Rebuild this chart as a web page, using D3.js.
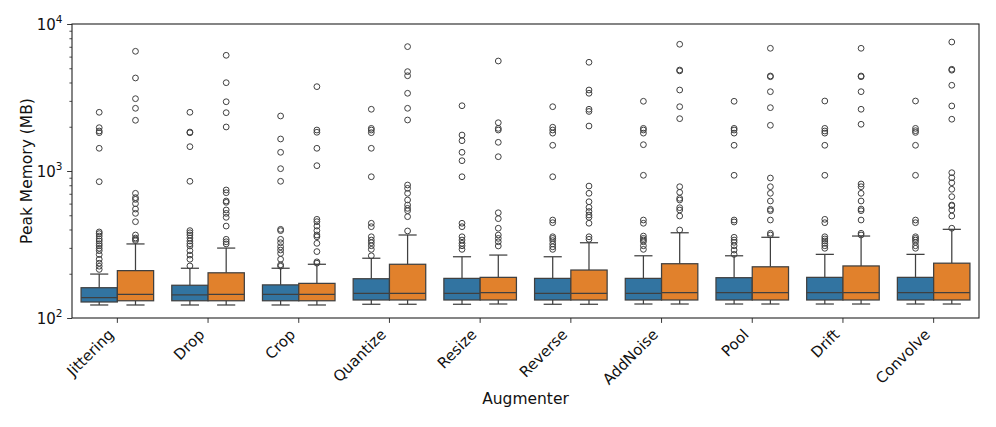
<!DOCTYPE html>
<html>
<head>
<meta charset="utf-8">
<script src="https://cdn.jsdelivr.net/npm/d3@7"></script>
<style>
  body { margin: 0; background: #fff; }
  text { font-family: "DejaVu Sans", sans-serif; fill: #111; }
</style>
</head>
<body>
<svg id="chart"></svg>
<script>
// categories
const augmenters = ["Jittering","Drop","Crop","Quantize","Resize","Reverse","AddNoise","Pool","Drift","Convolve"];

// blue series: whisker low, q1, median, q3, whisker high (MB)
const blueLow    = [122.6, 122.6, 122.6, 124, 124, 124, 124.5, 124.5, 124.5, 124.5];
const blueQ1     = [128.5, 131, 131, 132.6, 132.6, 132.6, 132.6, 132.6, 132.6, 132.6];
const blueMedian = [137.4, 143.4, 145, 147, 147, 147, 147, 148.6, 148.6, 148.6];
const blueQ3     = [160.7, 167, 168, 185, 186, 186, 186, 188, 189, 189];
const blueHigh   = [199, 218, 218, 255, 261, 261, 265, 265, 271, 271];
const blueOutliers = [
  [2508,1971,1871,1823,1427,846,385,375,361,345,334,320,310,298,287,270,251,236,225,214],
  [2508,1840,1820,1464,851,393,380,367,350,334,320,309,287,268,251,226],
  [2367,1651,1340,1037,851,401,393,343,325,305,290,275,251,230,225],
  [2630,1950,1900,1823,1427,914,441,418,357,339,325,310,293,265],
  [2780,1757,1607,1340,1175,914,441,418,357,339,322,310,293],
  [2738,1985,1900,1810,1496,914,464,445,357,348,336,319,305,293],
  [2980,1950,1900,1810,1510,935,464,441,361,348,339,330,310,293],
  [2980,1950,1900,1810,1496,935,464,450,354,339,327,310,290,271],
  [2993,1950,1871,1810,1496,935,469,445,357,345,334,322,310,298],
  [2993,1950,1880,1830,1496,935,464,445,357,348,339,327,310,298]
];

// orange series
const orangeLow    = [122.6, 122.6, 122.6, 124, 124.5, 124, 124.5, 124.5, 124.5, 124.5];
const orangeQ1     = [131, 131, 131, 132.6, 132.6, 132.6, 132.6, 132.6, 132.6, 132.6];
const orangeMedian = [145, 145, 145, 147, 148.6, 147, 148.6, 148.6, 148.6, 148.6];
const orangeQ3     = [210, 203, 172, 232, 189, 212, 234, 223, 226, 236];
const orangeHigh   = [319, 299, 232, 367, 268, 325, 380, 354, 361, 401];
const orangeOutliers = [
  [6520,4293,3104,2670,2213,705,659,641,600,551,515,452,367,350,343,336],
  [6124,3988,2959,2493,1993,743,712,625,612,543,515,484,422,343,330,319],
  [3748,1900,1834,1427,1087,469,452,422,393,367,357,322,283,241,236],
  [7015,4742,4446,3378,2670,2223,803,762,705,635,587,557,537,489,391],
  [5600,2131,1950,1900,1567,1251,520,474,408,367,348,330,309],
  [5490,3556,3378,2630,2542,2023,790,705,618,566,530,502,484,441,357,343],
  [7280,4864,4800,3556,2738,2270,782,716,652,635,563,543,494,397],
  [6834,4430,4380,3464,2697,2046,896,782,705,625,549,537,464,377,367],
  [6834,4430,4380,3464,2630,2079,816,782,705,625,551,537,464,377,367],
  [7540,4920,4850,3830,2770,2250,974,900,832,751,669,587,580,543,494,408]
];

const yMajorTicks = [100, 1000, 10000];
const yTickExp    = ["2", "3", "4"];

function buildSeries(name, color, low, q1, med, q3, high, outs){
    return augmenters.map((a,i)=>({augmenter:a, series:name, color:color,
        low:low[i], q1:q1[i], median:med[i], q3:q3[i], high:high[i], outliers:outs[i]}))
}

let width       = 996,
    height      = 427,
    padLeft     = 72,
    padRight    = 979,
    padTop      = 24,
    padBottom   = 318,
    lineColor   = "#404040",
    boxes       = buildSeries("blue", "#3274a1", blueLow, blueQ1, blueMedian, blueQ3, blueHigh, blueOutliers)
                    .concat(buildSeries("orange", "#e1812c", orangeLow, orangeQ1, orangeMedian, orangeQ3, orangeHigh, orangeOutliers)),

    xScale      = d3.scaleBand()
                      .domain(augmenters)
                      .range([padLeft, padRight]),
    hueScale    = d3.scaleBand()
                      .domain(["blue","orange"])
                      .range([0.1*xScale.bandwidth(), 0.9*xScale.bandwidth()]),
    yScale      = d3.scaleLog()
                      .domain([100, 10000])
                      .range([padBottom, padTop]),

    svg         = d3.select('#chart')
                      .attr('width', width)
                      .attr('height', height);

let bw = hueScale.bandwidth();

// minor y ticks
let minor = [];
[100, 1000].forEach(b=>{ for(let k=2;k<10;k++) minor.push(b*k) });

svg.append('g')
    .attr('transform', `translate(${padLeft},0)`)
    .call(d3.axisLeft(yScale).tickValues(minor).tickSize(2.6).tickFormat(''))
    .call(g=>g.select('.domain').remove())
    .selectAll('line').attr('stroke', '#222').attr('stroke-width', 0.8);

let yAxis = svg.append('g')
    .attr('transform', `translate(${padLeft},0)`)
    .call(d3.axisLeft(yScale).tickValues(yMajorTicks).tickSize(4.9).tickPadding(6).tickFormat(''))
    .call(g=>g.select('.domain').remove());
yAxis.selectAll('line').attr('stroke', '#222').attr('stroke-width', 0.9);
yAxis.selectAll('.tick text')
    .attr('font-size', 15)
    .attr('fill', '#111')
    .attr('x', -9.5)
    .attr('dy', '0.36em')
    .each(function(d,i){
        let t = d3.select(this);
        t.append('tspan').text('10');
        t.append('tspan').attr('font-size', 10.5).attr('dy', '-0.62em').text(yTickExp[i]);
    });

// x axis
let xAxis = svg.append('g')
    .attr('transform', `translate(0,${padBottom})`)
    .call(d3.axisBottom(xScale).tickSize(4.9).tickFormat(''))
    .call(g=>g.select('.domain').remove());
xAxis.selectAll('line').attr('stroke', '#222').attr('stroke-width', 0.9);

svg.append('g').selectAll('text')
    .data(augmenters)
    .enter()
    .append('text')
    .attr('text-anchor', 'end')
    .attr('font-size', 15)
    .attr('transform', d=>`translate(${xScale(d)+xScale.bandwidth()/2-2.5},${padBottom+17.5}) rotate(-45)`)
    .text(d=>d);

// boxes
let group = svg.append('g')
    .selectAll('.box')
    .data(boxes)
    .enter()
    .append('g')
    .classed('box', true)
    .attr('transform', d=>`translate(${xScale(d.augmenter)+hueScale(d.series)},0)`);

group.append('line')
    .attr('x1', bw/2).attr('x2', bw/2)
    .attr('y1', d=>yScale(d.low)).attr('y2', d=>yScale(d.q1))
    .attr('stroke', lineColor).attr('stroke-width', 1.25);
group.append('line')
    .attr('x1', bw/2).attr('x2', bw/2)
    .attr('y1', d=>yScale(d.q3)).attr('y2', d=>yScale(d.high))
    .attr('stroke', lineColor).attr('stroke-width', 1.25);
group.append('line')
    .attr('x1', bw/4).attr('x2', bw*3/4)
    .attr('y1', d=>yScale(d.low)).attr('y2', d=>yScale(d.low))
    .attr('stroke', lineColor).attr('stroke-width', 1.25);
group.append('line')
    .attr('x1', bw/4).attr('x2', bw*3/4)
    .attr('y1', d=>yScale(d.high)).attr('y2', d=>yScale(d.high))
    .attr('stroke', lineColor).attr('stroke-width', 1.25);

group.append('rect')
    .attr('x', 0)
    .attr('width', bw)
    .attr('y', d=>yScale(d.q3))
    .attr('height', d=>yScale(d.q1)-yScale(d.q3))
    .attr('fill', d=>d.color)
    .attr('stroke', lineColor)
    .attr('stroke-width', 1.25);

group.append('line')
    .attr('x1', 0).attr('x2', bw)
    .attr('y1', d=>yScale(d.median)).attr('y2', d=>yScale(d.median))
    .attr('stroke', lineColor).attr('stroke-width', 1.25);

group.selectAll('circle')
    .data(d=>d.outliers)
    .enter()
    .append('circle')
    .attr('cx', bw/2)
    .attr('cy', d=>yScale(d))
    .attr('r', 2.9)
    .attr('fill', 'none')
    .attr('stroke', lineColor)
    .attr('stroke-width', 1);

// frame
svg.append('rect')
    .attr('x', padLeft).attr('y', padTop)
    .attr('width', padRight-padLeft).attr('height', padBottom-padTop)
    .attr('fill', 'none')
    .attr('stroke', '#222')
    .attr('stroke-width', 1.1);

// axis titles
svg.append('text')
    .attr('x', (padLeft+padRight)/2)
    .attr('y', 404)
    .attr('text-anchor', 'middle')
    .attr('font-size', 15.5)
    .text('Augmenter');

svg.append('text')
    .attr('transform', `translate(32,${(padTop+padBottom)/2}) rotate(-90)`)
    .attr('text-anchor', 'middle')
    .attr('font-size', 15.5)
    .text('Peak Memory (MB)');
</script>
</body>
</html>
